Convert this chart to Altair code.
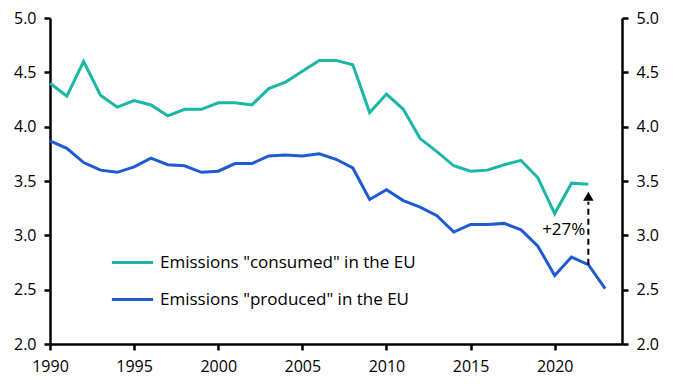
import altair as alt
import pandas as pd

years_consumed = list(range(1990, 2023))
consumed = [4.40, 4.28, 4.60, 4.29, 4.18, 4.24, 4.20, 4.10, 4.16, 4.16,
            4.22, 4.22, 4.20, 4.35, 4.41, 4.51, 4.61, 4.61, 4.57, 4.13,
            4.30, 4.16, 3.89, 3.77, 3.64, 3.59, 3.60, 3.65, 3.69, 3.53,
            3.20, 3.48, 3.47]
years_produced = list(range(1990, 2024))
produced = [3.87, 3.80, 3.67, 3.60, 3.58, 3.63, 3.71, 3.65, 3.64, 3.58,
            3.59, 3.66, 3.66, 3.73, 3.74, 3.73, 3.75, 3.70, 3.62, 3.33,
            3.42, 3.32, 3.26, 3.18, 3.03, 3.10, 3.10, 3.11, 3.05, 2.90,
            2.63, 2.80, 2.73, 2.51]
series_names = ['Emissions "consumed" in the EU', 'Emissions "produced" in the EU']
series_colors = ["#1ab7a6", "#1f5bd0"]
x_ticks = [1990, 1995, 2000, 2005, 2010, 2015, 2020]
y_ticks = [2.0, 2.5, 3.0, 3.5, 4.0, 4.5, 5.0]
arrow_year = 2022
arrow_base = 3.31
arrow_tip_center = 3.36
label_y = 3.05
label_text = "+27%"

FONT = "Open Sans"

rows = []
for y, v in zip(years_consumed, consumed):
    rows.append({"year": y, "value": v, "series": series_names[0]})
for y, v in zip(years_produced, produced):
    rows.append({"year": y, "value": v, "series": series_names[1]})
df = pd.DataFrame(rows)

arrow_df = pd.DataFrame({
    "year": [arrow_year],
    "y1": [produced[years_produced.index(arrow_year)]],
    "y2": [arrow_base],
    "tip": [arrow_tip_center],
    "ly": [label_y],
    "label": [label_text],
})

x_scale = alt.Scale(domain=[1990, 2024], nice=False, zero=False)
y_scale = alt.Scale(domain=[2.0, 5.0], nice=False, zero=False)

axis_common = dict(
    domainColor="black", domainWidth=2.5, tickColor="black", tickWidth=2.5,
    tickSize=6, labelFont=FONT, labelFontSize=16, labelColor="black",
    grid=False, title=None, labelPadding=8,
)

x_enc = alt.X("year:Q", scale=x_scale,
              axis=alt.Axis(values=x_ticks, format="d", labelFlush=False,
                            orient="bottom", **axis_common))

lines = alt.Chart(df).mark_line(strokeWidth=3).encode(
    x=x_enc,
    y=alt.Y("value:Q", scale=y_scale,
            axis=alt.Axis(values=y_ticks, format=".1f", orient="left", **axis_common)),
    color=alt.Color("series:N",
                    scale=alt.Scale(domain=series_names, range=series_colors),
                    legend=alt.Legend(
                        orient="none", legendX=60, legendY=222, title=None,
                        symbolType="stroke", symbolSize=1700, symbolStrokeWidth=3,
                        labelFont=FONT, labelFontSize=17, labelColor="black",
                        labelOffset=5, rowPadding=6, labelLimit=400,
                    )),
)

right_axis = alt.Chart(df).mark_line(strokeOpacity=0).encode(
    x=x_enc,
    y=alt.Y("value:Q", scale=y_scale,
            axis=alt.Axis(values=y_ticks, format=".1f", orient="right", **axis_common)),
)

arrow_line = alt.Chart(arrow_df).mark_rule(
    color="black", strokeWidth=2, strokeDash=[6, 4]
).encode(x=alt.X("year:Q", scale=x_scale), y=alt.Y("y1:Q", scale=y_scale), y2="y2:Q")

arrow_head = alt.Chart(arrow_df).mark_point(
    shape="triangle-up", filled=True, size=110, color="black", opacity=1
).encode(x=alt.X("year:Q", scale=x_scale), y=alt.Y("tip:Q", scale=y_scale))

arrow_label = alt.Chart(arrow_df).mark_text(
    align="right", baseline="middle", dx=-3, font=FONT, fontSize=17, color="black"
).encode(x=alt.X("year:Q", scale=x_scale), y=alt.Y("ly:Q", scale=y_scale), text="label:N")

left_layer = alt.layer(lines, arrow_line, arrow_head, arrow_label)

chart = alt.layer(left_layer, right_axis).resolve_axis(y="independent").properties(
    width=572, height=326,
    autosize=alt.AutoSizeParams(type="none"),
    padding={"left": 42, "top": 10, "right": 45, "bottom": 40},
).configure_view(stroke=None)

chart.save("out.html", embed_options={"renderer": "svg", "actions": False})
